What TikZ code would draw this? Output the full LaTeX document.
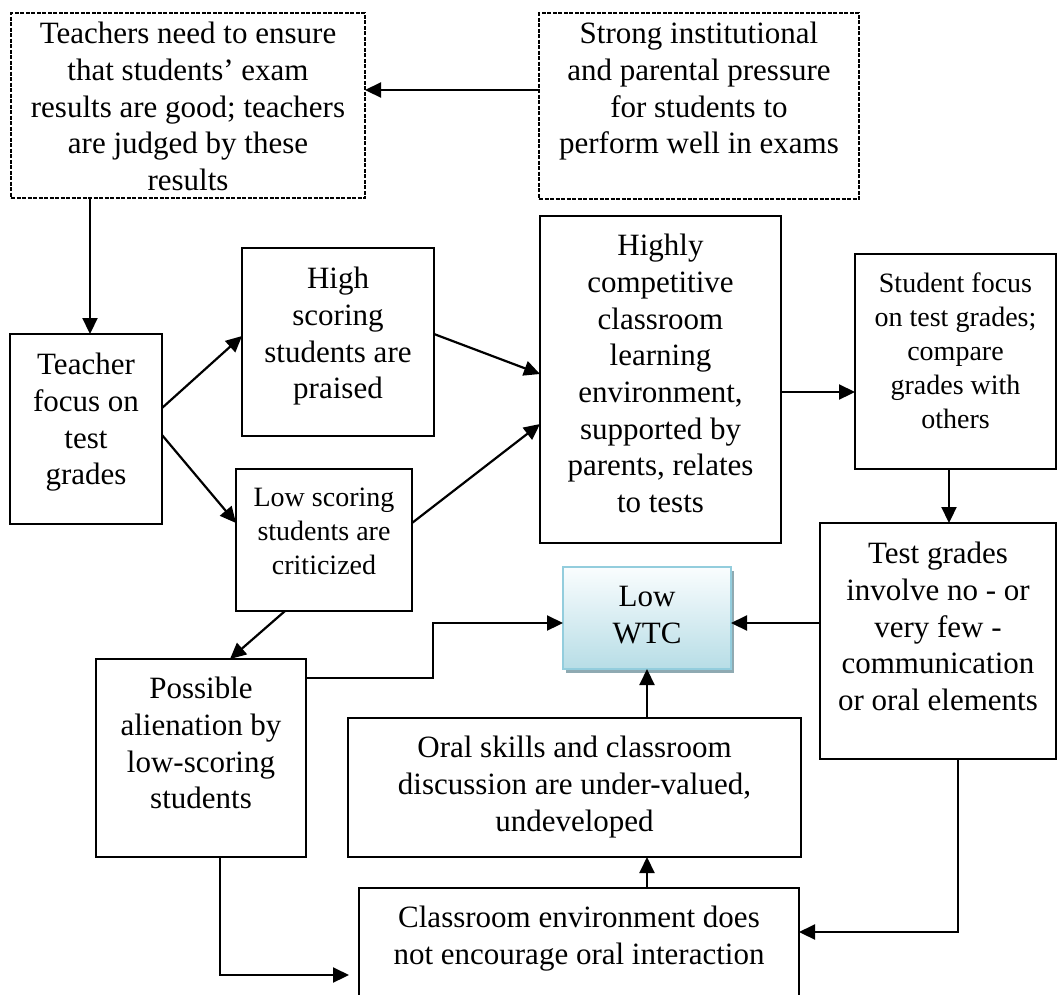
\documentclass[tikz,border=0pt]{standalone}
\usepackage{fontspec}
\setmainfont{Liberation Serif}
\usetikzlibrary{arrows.meta,shadows}
\definecolor{wtcedge}{RGB}{147,205,221}
\definecolor{wtctop}{RGB}{250,253,254}
\definecolor{wtcbot}{RGB}{183,221,230}
\definecolor{wtcshade}{RGB}{143,170,178}
\newcommand{\mainsize}{\fontsize{31}{36.7}\selectfont}
\newcommand{\minorsize}{\fontsize{28}{34}\selectfont}
\begin{document}
\begin{tikzpicture}[x=1pt,y=-1pt,
  box/.style={draw, line width=2.2pt, fill=white, inner sep=0pt, outer sep=0pt, anchor=north west},
  dbox/.style={box, line width=2pt, dash pattern=on 4pt off 1.5pt},
  txt/.style={align=center, inner sep=0pt, anchor=north, font=\mainsize},
  minor/.style={font=\minorsize},
  arr/.style={line width=2.2pt, -{Triangle[length=16pt,width=15pt]}}]
\useasboundingbox (0,0) rectangle (1058,994);
\clip (0,0) rectangle (1058,994);

% boxes
\node[dbox, minimum width=354pt, minimum height=185pt] (b1) at (11,13) {};
\node[dbox, minimum width=320pt, minimum height=186pt] (b2) at (539,13) {};
\node[box, minimum width=152pt, minimum height=190pt] (tf) at (10,334) {};
\node[box, minimum width=192pt, minimum height=188pt] (hi) at (242,248) {};
\node[box, minimum width=176pt, minimum height=142pt] (lo) at (236,469) {};
\node[box, minimum width=241pt, minimum height=327pt] (hc) at (540,216) {};
\node[box, minimum width=201pt, minimum height=215pt] (sf) at (855,254) {};
\node[box, minimum width=236pt, minimum height=236pt] (tg) at (820,523) {};
\node[box, draw=wtcedge, line width=2.4pt, top color=wtctop, bottom color=wtcbot,
      drop shadow={shadow xshift=3pt, shadow yshift=-4pt, fill=wtcshade, opacity=1},
      minimum width=168pt, minimum height=102pt] (wtc) at (563,567) {};
\node[box, minimum width=210pt, minimum height=198pt] (pa) at (96,659) {};
\node[box, minimum width=453pt, minimum height=139pt] (os) at (348,718) {};
\node[box, minimum width=440pt, minimum height=174pt] (ce) at (359,888) {};

% texts
\node[txt] (t-b1) at ([yshift=-9pt]b1.north) {Teachers need to ensure\\that students’ exam\\results are good; teachers\\are judged by these\\results};
\node[txt] (t-b2) at ([yshift=-9pt]b2.north) {Strong institutional\\and parental pressure\\for students to\\perform well in exams};
\node[txt] (t-tf) at ([yshift=-19pt]tf.north) {Teacher\\focus on\\test\\grades};
\node[txt] (t-hi) at ([yshift=-19pt]hi.north) {High\\scoring\\students are\\praised};
\node[txt, minor] (t-lo) at ([yshift=-19pt]lo.north) {Low scoring\\students are\\criticized};
\node[txt] (t-hc) at ([yshift=-18pt]hc.north) {Highly\\competitive\\classroom\\learning\\environment,\\supported by\\parents, relates\\to tests};
\node[txt, minor] (t-sf) at ([yshift=-19pt]sf.north) {Student focus\\on test grades;\\compare\\grades with\\others};
\node[txt] (t-tg) at ([yshift=-19pt]tg.north) {Test grades\\involve no - or\\very few -\\communication\\or oral elements};
\node[txt] (t-wtc) at ([yshift=-19pt]wtc.north) {Low\\WTC};
\node[txt] (t-pa) at ([yshift=-18pt]pa.north) {Possible\\alienation by\\low-scoring\\students};
\node[txt] (t-os) at ([yshift=-18pt]os.north) {Oral skills and classroom\\discussion are under-valued,\\undeveloped};
\node[txt] (t-ce) at ([yshift=-18pt]ce.north) {Classroom environment does\\not encourage oral interaction};

% connectors
\draw[arr] ([yshift=16pt]b2.west) -- ([yshift=16pt]b2.west -| b1.east);
\draw[arr] ([xshift=4pt]tf.north |- b1.south) -- ([xshift=4pt]tf.north);
\draw[arr] ([yshift=21pt]tf.east) -- ([yshift=6pt]hi.west);
\draw[arr] ([yshift=-6pt]tf.east) -- ([yshift=17pt]lo.west);
\draw[arr] ([yshift=8pt]hi.east) -- ([yshift=5.5pt]hc.west);
\draw[arr] ([yshift=17pt]lo.east) -- ([yshift=-44.5pt]hc.west);
\draw[arr] ([yshift=-12.5pt]hc.east) -- ([yshift=-12.5pt]hc.east -| sf.west);
\draw[arr] ([xshift=-6.5pt]sf.south) -- ([xshift=-6.5pt]sf.south |- tg.north);
\draw[arr] ([yshift=18pt]tg.west) -- ([yshift=18pt]tg.west -| wtc.east);
\draw[arr] (wtc.south |- os.north) -- (wtc.south);
\draw[arr] ([xshift=-39pt]lo.south) -- ([xshift=29pt]pa.north);
\draw[arr] ([yshift=80pt]pa.east) -- ++(127,0) |- ([yshift=-5pt]wtc.west);
\draw[arr] (wtc.south |- ce.north) -- (wtc.south |- os.south);
\draw[arr] ([xshift=19pt]pa.south) |- ([xshift=-10pt]ce.west);
\draw[arr] ([xshift=20pt]tg.south) |- ([yshift=43pt]ce.east);
\end{tikzpicture}
\end{document}
